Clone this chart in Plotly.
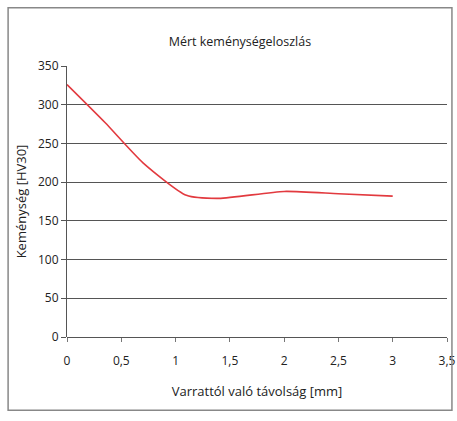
import plotly.graph_objects as go

distance_mm = [0, 0.35, 0.7, 1.1, 1.4, 2.0, 2.5, 3.0]
hardness_hv30 = [326, 277, 225, 183, 179, 188, 185, 182]

x_ticks = [0, 0.5, 1, 1.5, 2, 2.5, 3, 3.5]
x_tick_labels = ["0", "0,5", "1", "1,5", "2", "2,5", "3", "3,5"]
y_ticks = [0, 50, 100, 150, 200, 250, 300, 350]

fig = go.Figure()
fig.add_trace(go.Scatter(
    x=distance_mm, y=hardness_hv30, mode="lines",
    line=dict(color="#e23a3f", width=1.6, shape="spline", smoothing=0.6),
    showlegend=False, hoverinfo="x+y",
))

font = "Open Sans, Liberation Sans, sans-serif"
fig.update_layout(
    width=457, height=421,
    margin=dict(l=67, r=10, t=66, b=84),
    paper_bgcolor="white", plot_bgcolor="white",
    font=dict(family=font, size=12, color="#222"),
    title=dict(text="Mért keménységeloszlás", x=0.525, xanchor="center",
               y=0.9, yanchor="middle", font=dict(size=12.5, color="#222")),
    xaxis=dict(range=[0, 3.5], tickvals=x_ticks, ticktext=x_tick_labels,
               showgrid=False, zeroline=False, showline=False,
               automargin=False,
               ticks="outside", ticklen=4, tickcolor="#777",
               ticklabelstandoff=9,
               title=dict(text="Varrattól való távolság [mm]", standoff=18,
                          font=dict(size=13)),
               tickfont=dict(size=12)),
    yaxis=dict(range=[0, 350], tickvals=y_ticks,
               showgrid=True, gridcolor="#555", gridwidth=1,
               zeroline=True, zerolinecolor="#555", zerolinewidth=1,
               showline=True, linecolor="#555", linewidth=1,
               automargin=False,
               ticks="outside", ticklen=5, tickcolor="#555",
               title=dict(text="Keménység [HV30]", standoff=8,
                          font=dict(size=13)),
               tickfont=dict(size=12)),
)
# outer chart frame
fig.add_shape(type="rect", xref="paper", yref="paper",
              x0=-0.155, x1=1.013, y0=-0.27, y1=1.215,
              line=dict(color="#888", width=1.5))

fig.write_html("out.html", config={"displayModeBar": False},
               post_script="document.body.style.margin='0px';document.body.style.overflow='hidden';")
